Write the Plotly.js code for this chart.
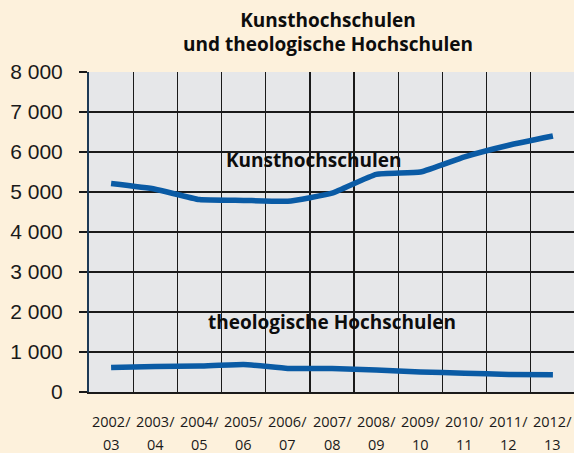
<!DOCTYPE html>
<html>
<head>
<meta charset="utf-8">
<script src="https://cdn.plot.ly/plotly-3.0.1.min.js"></script>
<style>html,body{margin:0;padding:0;background:#fdf1dc;}#chart{width:574px;height:453px;}</style>
</head>
<body>
<div id="chart"></div>
<script>
// Data
const yearsTop = ["2002/", "2003/", "2004/", "2005/", "2006/", "2007/", "2008/", "2009/", "2010/", "2011/", "2012/"];
const yearsBottom = ["03", "04", "05", "06", "07", "08", "09", "10", "11", "12", "13"];
const categories = yearsTop.map((t, i) => t + yearsBottom[i]);
const kunsthochschulen = [5210, 5070, 4810, 4790, 4770, 4970, 5440, 5500, 5880, 6170, 6400];
const theologische = [610, 640, 650, 690, 590, 590, 550, 500, 470, 440, 430];
const seriesNames = ["Kunsthochschulen", "theologische Hochschulen"];
const titleText = "Kunsthochschulen<br>und theologische Hochschulen";

const lineColor = "#0a5ba5";
const boldFont = {family: "Open Sans, sans-serif", size: 19, color: "#0d0d0d", weight: 700};

const traces = [kunsthochschulen, theologische].map((vals, i) => ({
  type: "scatter",
  mode: "lines",
  name: seriesNames[i],
  x: categories,
  y: vals,
  line: {color: lineColor, width: 5.5, shape: "spline", smoothing: 0.4},
  hoverinfo: "skip"
}));

const tickFont = {family: "Open Sans, sans-serif", size: 14.5, color: "#1a1a1a"};
const annotations = [];
categories.forEach((c, i) => {
  annotations.push({xref: "x", yref: "paper", x: c, y: -0.092, yanchor: "middle", xanchor: "center",
    text: yearsTop[i], showarrow: false, font: tickFont});
  annotations.push({xref: "x", yref: "paper", x: c, y: -0.164, yanchor: "middle", xanchor: "center",
    text: yearsBottom[i], showarrow: false, font: tickFont});
});
annotations.push({xref: "x", yref: "y", x: 4.59, y: 5800, text: "<b>" + seriesNames[0] + "</b>",
  showarrow: false, xanchor: "center", yanchor: "middle", font: boldFont});
annotations.push({xref: "x", yref: "y", x: 5.01, y: 1740, text: "<b>" + seriesNames[1] + "</b>",
  showarrow: false, xanchor: "center", yanchor: "middle", font: boldFont});

const layout = {
  width: 574, height: 453,
  paper_bgcolor: "#fdf1dc",
  plot_bgcolor: "#e6e7e9",
  margin: {l: 89, r: 0, t: 72, b: 61, pad: 0},
  showlegend: false,
  separators: ", ",
  title: {text: "<b>" + titleText + "</b>", font: boldFont, xref: "container", x: 328 / 574,
    xanchor: "center", yref: "container", y: 1 - 26.5 / 453, yanchor: "middle"},
  xaxis: {
    type: "category", range: [-0.5, 10.477], tickson: "boundaries",
    showgrid: true, gridcolor: "#1a1a1a", gridwidth: 1.3,
    showticklabels: false, ticks: "",
    showline: true, linecolor: "#1a1a1a", linewidth: 2, fixedrange: true
  },
  yaxis: {
    range: [0, 8000], dtick: 1000, tick0: 0, tickformat: ",d",
    showgrid: true, gridcolor: "#1a1a1a", gridwidth: 1.3, zeroline: false,
    showline: true, linecolor: "#1e3a55", linewidth: 2,
    ticks: "outside", ticklen: 8, tickcolor: "#1a1a1a", tickwidth: 1.5,
    ticklabelstandoff: 12,
    tickfont: {family: "Liberation Sans, Arial, sans-serif", size: 21, color: "#1a1a1a"},
    fixedrange: true
  },
  annotations: annotations
};

Plotly.newPlot("chart", traces, layout, {displayModeBar: false, staticPlot: true});
</script>
</body>
</html>
